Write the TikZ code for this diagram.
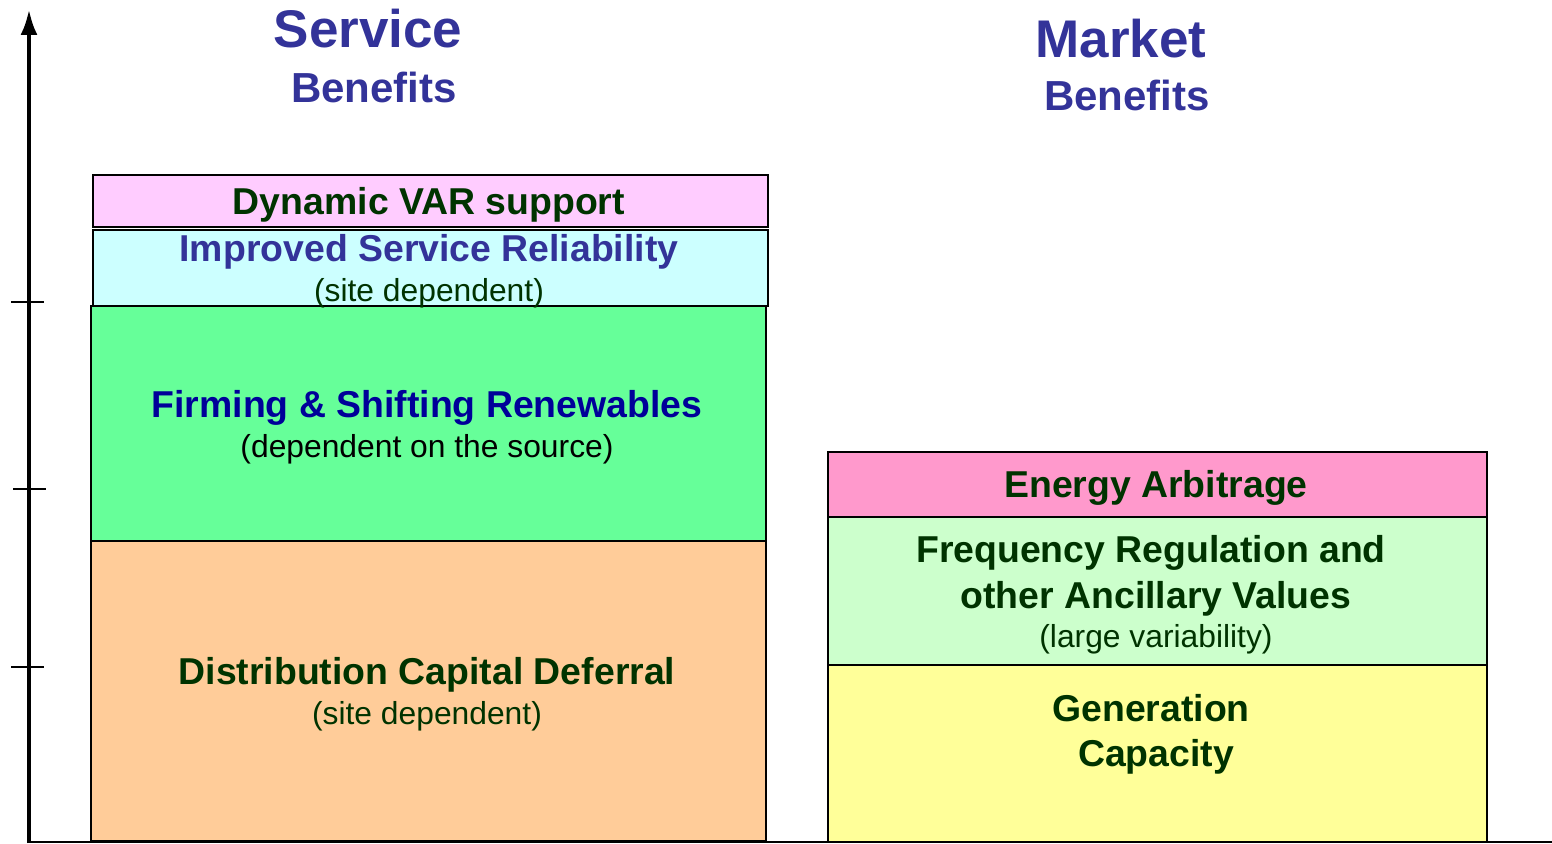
\documentclass[tikz,border=0pt]{standalone}
\usepackage{fontspec}
\setmainfont{Liberation Sans}
\usetikzlibrary{arrows.meta}
\definecolor{hdblue}{HTML}{333399}
\definecolor{fblue}{HTML}{000099}
\definecolor{dgreen}{HTML}{003300}
\definecolor{cpink}{HTML}{FFCCFF}
\definecolor{ccyan}{HTML}{CCFFFF}
\definecolor{cgreen}{HTML}{66FF99}
\definecolor{corange}{HTML}{FFCC99}
\definecolor{crose}{HTML}{FF99CC}
\definecolor{clgreen}{HTML}{CCFFCC}
\definecolor{cyellow}{HTML}{FFFF99}
\tikzset{
  blk/.style={draw=black, line width=2pt, rectangle, anchor=north west, inner sep=0pt},
  head/.style={font=\fontsize{53}{60}\selectfont\bfseries, text=hdblue, anchor=base, inner sep=0pt},
  subhead/.style={font=\fontsize{42}{48}\selectfont\bfseries, text=hdblue, anchor=base, inner sep=0pt},
  btitle/.style={font=\fontsize{37.4}{46}\selectfont\bfseries, text=dgreen, anchor=base, inner sep=0pt},
  bnote/.style={font=\fontsize{31.8}{36}\selectfont, text=dgreen, anchor=base, inner sep=0pt},
  tickline/.style={line width=1.5pt}
}
\begin{document}
\begin{tikzpicture}[x=1pt,y=-1pt]
\useasboundingbox (0,0) rectangle (1552,843);
% boxes
\node[blk, fill=cpink, minimum width=675pt, minimum height=52pt] (dvar) at (92,174) {};
\node[blk, fill=ccyan, minimum width=675pt, minimum height=76pt] (isr) at (92,229) {};
\node[blk, fill=cgreen, minimum width=675pt, minimum height=235pt] (firm) at (90,305) {};
\node[blk, fill=corange, minimum width=675pt, minimum height=300pt] (dist) at (90,540) {};
\node[blk, fill=crose, minimum width=659pt, minimum height=65pt] (earb) at (827,451) {};
\node[blk, fill=clgreen, minimum width=659pt, minimum height=148pt] (freq) at (827,516) {};
\node[blk, fill=cyellow, minimum width=659pt, minimum height=177pt] (gen) at (827,664) {};
% axis
\coordinate (origin) at (29,843);
\coordinate (top) at (29,9);
\coordinate (base) at (29,842);
\coordinate (right) at (1552,842);
\draw[line width=2pt] (base) -- (right);
\draw[line width=4.5pt, -{Latex[length=26pt,width=17pt]}] (origin) -- (top);
\coordinate (t1a) at (11,302); \coordinate (t1b) at (44,302);
\coordinate (t2a) at (13,489); \coordinate (t2b) at (46,489);
\coordinate (t3a) at (11,667); \coordinate (t3b) at (44,667);
\draw[tickline] (t1a) -- (t1b);
\draw[tickline] (t2a) -- (t2b);
\draw[tickline] (t3a) -- (t3b);
% headings
\node[head] (svc) at (368,48) {Service};
\node[subhead] (svcb) at (374,102) {Benefits};
\node[head] (mkt) at (1121,57) {Market};
\node[subhead] (mktb) at (1127,110) {Benefits};
% box texts
\node[btitle] (t1) at (429,214) {Dynamic VAR support};
\node[btitle, text=hdblue] (t2) at (429,261) {Improved Service Reliability};
\node[bnote] (t2n) at (429,301) {(site dependent)};
\node[btitle, text=fblue] (t3) at (427,417) {Firming \& Shifting Renewables};
\node[bnote, text=black] (t3n) at (427,457) {(dependent on the source)};
\node[btitle] (t4) at (427,684) {Distribution Capital Deferral};
\node[bnote] (t4n) at (427,724) {(site dependent)};
\node[btitle] (t5) at (1156,497) {Energy Arbitrage};
\node[btitle] (t6) at (1151,562) {Frequency Regulation and};
\node[btitle] (t6b) at (1156,608) {other Ancillary Values};
\node[bnote] (t6n) at (1156,647) {(large variability)};
\node[btitle] (t7) at (1151,721) {Generation};
\node[btitle] (t7b) at (1156,766) {Capacity};
\end{tikzpicture}
\end{document}
